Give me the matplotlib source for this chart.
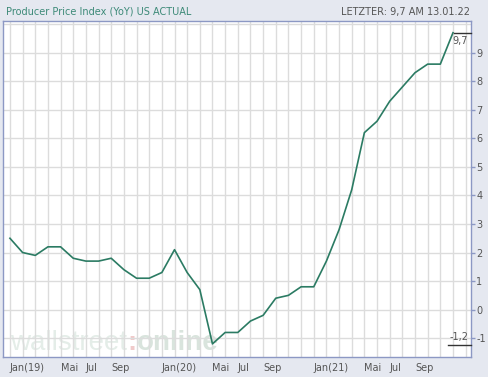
import matplotlib.pyplot as plt

# PPI YoY, monatlich (Dez 2018 bis Dez 2021), in %
ppi = [2.5, 2.0, 1.9, 2.2, 2.2, 1.8, 1.7, 1.7, 1.8, 1.4, 1.1, 1.1,
       1.3, 2.1, 1.3, 0.7, -1.2, -0.8, -0.8, -0.4, -0.2, 0.4, 0.5, 0.8,
       0.8, 1.7, 2.8, 4.2, 6.2, 6.6, 7.3, 7.8, 8.3, 8.6, 8.6, 9.7]
tick_pos = [0, 4, 6, 8, 12, 16, 18, 20, 24, 28, 30, 32]
tick_labels = ["Jan(19)", "Mai", "Jul", "Sep", "Jan(20)", "Mai", "Jul", "Sep",
               "Jan(21)", "Mai", "Jul", "Sep"]
y_ticks = list(range(-1, 10))

BG = "#e5e8f0"
LINE = "#2b7b63"
BORDER = "#8c98c4"
TXT = "#555555"

fig = plt.figure(figsize=(4.89, 3.77), dpi=100, facecolor=BG)
ax = fig.add_axes([0.0061, 0.053, 0.9565, 0.892], facecolor="white")

x = list(range(len(ppi)))
ax.set_xlim(-0.55, 36.4)
ax.set_ylim(-1.66, 10.12)

# Gitter: jede Monatsposition und jede ganze Zahl
for i in range(37):
    ax.axvline(i, color="#dcdcdc", lw=1.0, zorder=0.5)
for v in range(-1, 11):
    ax.axhline(v, color="#dcdcdc", lw=1.0, zorder=0.5)

# Wasserzeichen, Teile direkt nebeneinander gesetzt (unter dem Gitter)
fig.canvas.draw()
renderer = fig.canvas.get_renderer()
wm_parts = [("wallstreet", "#e4ede8", "normal"),
            (":", "#f0caca", "bold"),
            ("online", "#d9e4dd", "bold")]
px, py = 10, 27  # Pixel von unten links der Figur (Grundlinie)
for txt, col, wt in wm_parts:
    t = ax.text(px / 489, py / 377, txt, transform=fig.transFigure,
                fontsize=20, color=col, fontweight=wt,
                family="Liberation Sans", ha="left", va="baseline",
                zorder=0.2)
    px += t.get_window_extent(renderer).width + 0.5

ax.plot(x, ppi, color=LINE, lw=1.2, zorder=3)

# Max / Min Markierungen
vmax, vmin = max(ppi), min(ppi)
ax.plot([35.1, 36.4], [vmax, vmax], color="#333333", lw=1.0, zorder=4,
        clip_on=False)
ax.text(36.2, vmax - 0.12, f"{vmax:.1f}".replace(".", ","), fontsize=7,
        color=TXT, ha="right", va="top", zorder=4)
ax.plot([34.6, 36.4], [vmin - 0.03, vmin - 0.03], color="#333333", lw=1.0,
        zorder=4, clip_on=False)
ax.text(36.2, vmin + 0.05, f"{vmin:.1f}".replace(".", ","), fontsize=7,
        color=TXT, ha="right", va="bottom", zorder=4)

ax.set_xticks(tick_pos)
ax.set_xticklabels(tick_labels, ha="left")
ax.tick_params(axis="x", length=0, labelsize=7, labelcolor=TXT, pad=4)

ax.yaxis.tick_right()
ax.set_yticks(y_ticks)
ax.set_yticklabels([str(v) for v in y_ticks])
ax.tick_params(axis="y", length=3, width=1, color=BORDER, labelsize=7,
               labelcolor=TXT, pad=1)

for s in ax.spines.values():
    s.set_color(BORDER)
    s.set_linewidth(1.0)

fig.text(6 / 489, 1 - 12 / 377, "Producer Price Index (YoY) US ACTUAL",
         fontsize=7, color="#3d8a78", ha="left", va="center")
fig.text(470 / 489, 1 - 12 / 377, "LETZTER: 9,7 AM 13.01.22",
         fontsize=7, color=TXT, ha="right", va="center")

fig.savefig("out.png", dpi=100, facecolor=BG)
